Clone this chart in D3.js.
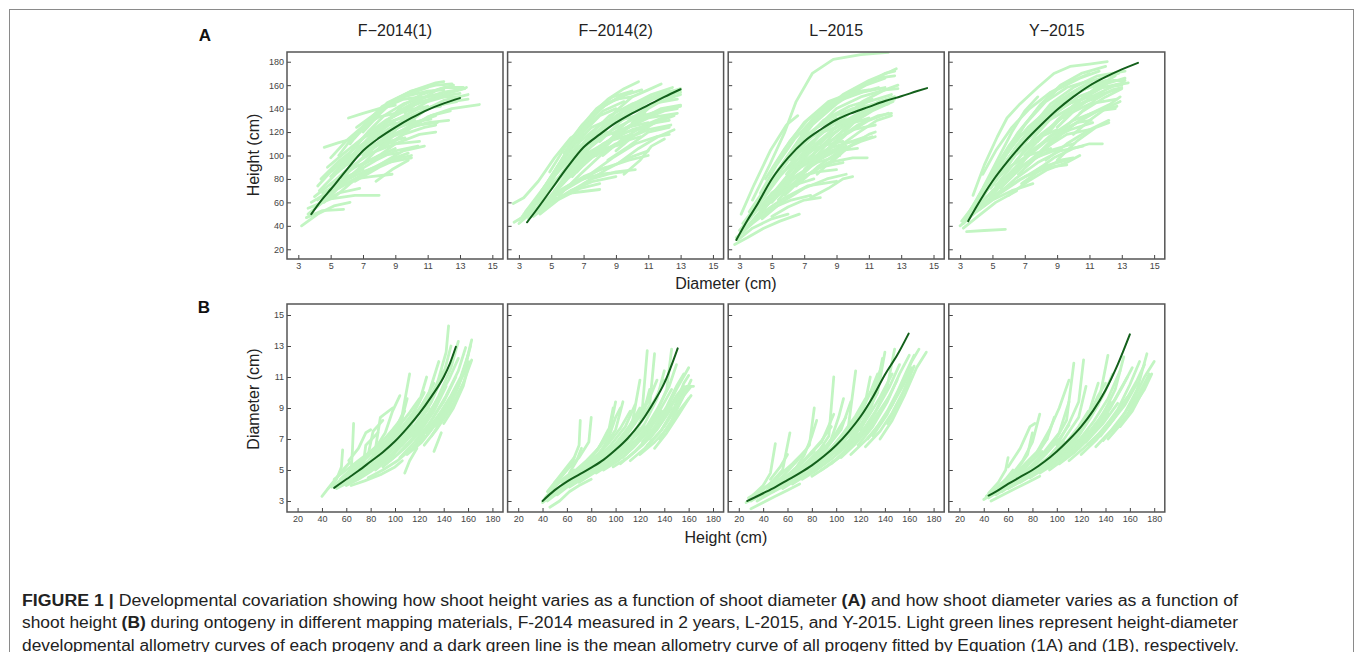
<!DOCTYPE html>
<html>
<head>
<meta charset="utf-8">
<script src="https://cdn.jsdelivr.net/npm/d3@7"></script>
<style>
  html, body { margin: 0; padding: 0; background: #fff; }
  svg { display: block; font-family: "Liberation Sans", Arial, Helvetica, sans-serif; }
</style>
</head>
<body>
<div id="figure"></div>
<script>
'use strict';

// ---- data ----
const panelTitles = ['F\u22122014(1)', 'F\u22122014(2)', 'L\u22122015', 'Y\u22122015'];

const diameterTicks = [3, 5, 7, 9, 11, 13, 15];
const heightTicks = [20, 40, 60, 80, 100, 120, 140, 160, 180];
const diameterTicksB = [3, 5, 7, 9, 11, 13, 15];
const heightTicksB = [20, 40, 60, 80, 100, 120, 140, 160, 180];

// panel A: [diameter, height]; dark green mean curves
const meanA1 = [[3.8, 50], [4.5, 63], [5, 71], [6, 88], [7, 104], [8, 115], [9, 124], [10, 132], [11, 139], [12, 144.5], [13, 149]];
const meanA2 = [[3.5, 43], [4, 52], [5, 71], [6, 90], [7, 107], [8, 118], [9, 128], [10, 136], [11, 143], [12, 150], [13, 156.5]];
const meanA3 = [[2.8, 28], [3.5, 45], [4, 56], [5, 80], [6, 98], [7, 112], [8, 122], [9, 130.5], [10, 136.5], [11, 141.5], [12, 146.5], [13, 150.5], [14, 155], [14.6, 157.5]];
const meanA4 = [[3.5, 44], [4, 56], [5, 78], [6, 96], [7, 112], [8, 126], [9, 139], [10, 150], [11, 159.5], [12, 167], [13, 173.5], [14, 179]];

// panel B: [height, diameter]
const meanB1 = [[50, 3.85], [60, 4.4], [70, 4.95], [80, 5.55], [90, 6.15], [100, 6.85], [110, 7.7], [120, 8.65], [130, 9.75], [140, 11.0], [145, 11.85], [150, 12.95]];
const meanB2 = [[40, 3.0], [50, 3.7], [60, 4.25], [70, 4.7], [80, 5.15], [90, 5.65], [100, 6.3], [110, 7.05], [120, 8.0], [130, 9.2], [140, 10.6], [151, 12.85]];
const meanB3 = [[27, 3.0], [40, 3.5], [50, 3.9], [60, 4.35], [70, 4.8], [80, 5.3], [90, 5.9], [100, 6.6], [110, 7.45], [120, 8.45], [130, 9.7], [140, 11.15], [150, 12.4], [159.5, 13.8]];
const meanB4 = [[44, 3.35], [50, 3.6], [60, 4.1], [70, 4.55], [80, 5.0], [90, 5.55], [100, 6.2], [110, 6.95], [120, 7.8], [130, 8.85], [140, 10.15], [150, 11.8], [160, 13.75]];

// light green progeny curves
const progenyA1 = [
    [[3.2, 40], [4.2, 50], [5.2, 57], [6.2, 60]],
    [[3.5, 47], [4.5, 53], [5.8, 54]],
    [[3.6, 55], [5, 63], [6.5, 66], [8, 66]],
    [[3.8, 60], [5, 70], [6.5, 80], [7.5, 82], [8.8, 84]],
    [[4.2, 74], [5, 86], [6, 98], [7.2, 108], [8.5, 112]],
    [[4, 65], [5.2, 78], [6.5, 90], [8, 100], [9.2, 102]],
    [[4.5, 68], [5.5, 76], [7, 86], [8.5, 94], [10, 98]],
    [[4.6, 107], [5.5, 111], [6.3, 114]],
    [[4.4, 80], [5.5, 95], [6.5, 106], [7.5, 114], [8.8, 118]],
    [[4.8, 90], [6, 104], [7, 115], [8.5, 126], [10, 130]],
    [[5, 75], [6, 88], [7.5, 102], [9, 110], [10.5, 112]],
    [[5.2, 85], [6.3, 100], [7.5, 117], [8.5, 128], [9.8, 134]],
    [[5.5, 72], [6.5, 80], [8, 92], [9.5, 104], [10.8, 108]],
    [[5, 98], [6, 113], [7, 125], [8, 133], [9, 136]],
    [[6.1, 132], [7, 136], [8, 140], [9, 143]],
    [[5.5, 100], [6.5, 118], [7.5, 132], [8.5, 142], [9.5, 148], [10.6, 150]],
    [[5.8, 90], [7, 108], [8.5, 120], [10, 128], [11.2, 131]],
    [[6, 95], [7.5, 115], [9, 130], [10.5, 140], [11.8, 142]],
    [[6.2, 110], [7.2, 128], [8.2, 142], [9.5, 150], [11, 155], [12, 156]],
    [[6.5, 115], [7.5, 130], [8.5, 145], [10, 155], [11.5, 162], [12, 163]],
    [[7, 100], [8, 112], [9.5, 122], [11, 128], [12.3, 130]],
    [[7, 120], [8, 135], [9, 148], [10, 155], [11.5, 160], [12.5, 161]],
    [[7.5, 118], [8.5, 130], [10, 142], [11.5, 150], [13, 156], [13.4, 158]],
    [[7.5, 95], [9, 110], [10.5, 118], [11.5, 120]],
    [[8, 122], [9, 136], [10.5, 148], [12, 154], [13.3, 157]],
    [[8.5, 115], [9.5, 128], [11, 140], [12.5, 146], [13.5, 148]],
    [[9, 125], [10, 138], [11, 146], [12.5, 152], [13, 153]],
    [[9.5, 120], [11, 133], [12.5, 140], [14.2, 143.5]],
    [[8, 105], [9.5, 118], [10.8, 124], [11.5, 126]],
    [[6.5, 78], [8, 90], [9.3, 98], [10, 100]],
    [[4.2, 62], [5, 72], [6, 82], [7, 88]],
    [[10, 130], [11, 140], [12, 147], [13.5, 152]],
    [[7.8, 78], [8.8, 88], [9.8, 96]],
    [[6, 92], [7.2, 105], [8.6, 112], [9.6, 115]],
    [[3.6, 50], [4.5, 60], [5.5, 68], [6.8, 72]],
    [[4, 55], [5, 68], [6, 80], [7, 92], [8, 100], [9, 106]],
    [[4.3, 70], [5.3, 84], [6.3, 96], [7.3, 106], [8.3, 114], [9.6, 120]],
    [[4.6, 60], [5.6, 74], [6.6, 86], [7.8, 96], [9, 104], [10.4, 108]],
    [[5, 82], [6, 96], [7, 108], [8, 118], [9, 126], [10.2, 130]],
    [[5.4, 90], [6.4, 106], [7.4, 120], [8.4, 130], [9.6, 138], [11, 142]],
    [[5.7, 80], [6.8, 96], [8, 110], [9.2, 120], [10.4, 126], [11.6, 128]],
    [[6.3, 104], [7.3, 120], [8.3, 134], [9.5, 144], [10.8, 150], [12.3, 152]],
    [[6.8, 90], [7.8, 104], [9, 118], [10.2, 128], [11.5, 134]],
    [[7.2, 112], [8.2, 126], [9.2, 138], [10.5, 146], [12, 150], [13, 150]],
    [[7.8, 108], [8.8, 122], [10, 134], [11.3, 142], [12.8, 146]],
    [[8.4, 128], [9.4, 142], [10.6, 152], [12, 158], [13.2, 158]],
    [[8.8, 110], [10, 124], [11.2, 134], [12.4, 138]],
    [[9.6, 136], [10.6, 148], [11.6, 156], [12.6, 160]],
    [[5.2, 64], [6.2, 76], [7.4, 88], [8.6, 96], [9.8, 102]],
    [[6.6, 124], [7.6, 134], [8.6, 144], [9.8, 152], [11, 158]]
];

const progenyA2 = [
    [[2.7, 43], [3.8, 52], [5, 62], [6.2, 68], [8, 71]],
    [[3, 45], [4, 55], [5, 66], [6.5, 78], [8, 84], [9.5, 86]],
    [[2.65, 59], [3.3, 64], [4.2, 78], [5.2, 98], [6.2, 115], [7, 122]],
    [[3.2, 48], [4.2, 62], [5.2, 78], [6.5, 95], [8, 105], [9.5, 110]],
    [[3.4, 52], [4.5, 72], [5.5, 92], [6.5, 110], [7.5, 124], [8.5, 130]],
    [[3.5, 50], [4.5, 66], [5.8, 86], [7, 100], [8.5, 112], [10, 118]],
    [[3.8, 56], [4.8, 78], [5.8, 100], [7, 120], [8, 134], [9, 140]],
    [[4, 60], [5, 82], [6, 104], [7, 124], [8, 140], [9, 148], [10, 150]],
    [[4.2, 58], [5.5, 80], [6.8, 100], [8.2, 116], [9.7, 124], [11, 128]],
    [[4.5, 66], [5.5, 90], [6.5, 114], [7.5, 132], [8.5, 145], [9.5, 150]],
    [[4.8, 62], [6, 80], [7.5, 98], [9, 110], [10.5, 116]],
    [[5, 72], [6.2, 96], [7.4, 118], [8.6, 134], [10, 144], [11.5, 150]],
    [[5, 64], [6.5, 76], [8, 88], [9.8, 96], [11, 100]],
    [[5.5, 92], [6.5, 115], [7.5, 135], [8.5, 148], [9.5, 157], [10.4, 163]],
    [[5.6, 75], [7, 95], [8.5, 112], [10, 122], [11.5, 128], [12.3, 130]],
    [[6, 88], [7.2, 108], [8.5, 126], [10, 138], [11.5, 145], [12.8, 148]],
    [[6.3, 82], [7.5, 100], [9, 118], [10.5, 130], [12, 138], [12.8, 140]],
    [[6.5, 96], [7.8, 118], [9, 134], [10.5, 146], [12, 154], [13, 156]],
    [[7, 92], [8.2, 108], [9.5, 122], [11, 132], [12.8, 136]],
    [[7.2, 104], [8.5, 124], [10, 140], [11.5, 150], [13, 154]],
    [[7.5, 85], [8.8, 98], [10.2, 110], [11.5, 116], [12.3, 118]],
    [[8, 112], [9.2, 128], [10.5, 142], [11.8, 152], [13, 157]],
    [[8, 120], [9, 138], [10, 150], [11, 156], [11.8, 161]],
    [[8.5, 96], [9.8, 108], [11, 120], [12.3, 124]],
    [[9, 104], [10.2, 118], [11.4, 128], [12.6, 134]],
    [[9.5, 84], [10.5, 96], [11.2, 108], [12, 114]],
    [[6, 68], [7.5, 80], [9, 86], [10.2, 88]],
    [[3.6, 46], [4.6, 58], [5.8, 72], [7, 82], [8.4, 90]],
    [[4.4, 70], [5.4, 88], [6.6, 106], [7.8, 120], [9.2, 130], [10.8, 136]],
    [[5.8, 102], [6.8, 124], [7.8, 140], [8.8, 150], [10, 155]],
    [[7.8, 100], [9, 116], [10.4, 130], [11.8, 140], [13, 143]],
    [[10, 128], [11, 140], [12, 148], [13, 152]],
    [[3, 42], [3.5, 48], [4.2, 54], [4.8, 58]],
    [[4.3, 50], [5.4, 62], [6.8, 72], [8, 76]],
    [[3.3, 50], [4.3, 66], [5.3, 84], [6.3, 100], [7.3, 112], [8.5, 120]],
    [[3.7, 54], [4.7, 72], [5.7, 92], [6.8, 112], [8, 126], [9.3, 134]],
    [[4.1, 62], [5.1, 84], [6.1, 106], [7.1, 124], [8.2, 138], [9.5, 146]],
    [[4.6, 60], [5.7, 78], [6.9, 96], [8.2, 110], [9.6, 120], [11, 124]],
    [[5.2, 70], [6.3, 90], [7.5, 108], [8.8, 122], [10.2, 132], [11.7, 138]],
    [[5.5, 66], [6.8, 84], [8.2, 102], [9.6, 114], [11, 122], [12.4, 126]],
    [[6.1, 92], [7.2, 112], [8.4, 128], [9.8, 140], [11.2, 148], [12.6, 152]],
    [[6.6, 86], [7.8, 104], [9.2, 120], [10.6, 132], [12, 140], [13, 142]],
    [[7.4, 110], [8.6, 128], [9.8, 142], [11.2, 152], [12.5, 158]],
    [[8.2, 100], [9.4, 114], [10.8, 126], [12.2, 134]],
    [[8.8, 118], [10, 132], [11.3, 144], [12.6, 150]],
    [[9.2, 94], [10.4, 106], [11.6, 116], [12.6, 122]],
    [[4.9, 86], [5.9, 108], [6.9, 126], [8, 140], [9.2, 150], [10.6, 156]],
    [[3.9, 48], [5, 60], [6.2, 70], [7.6, 78], [9, 82]],
    [[7, 76], [8.4, 88], [9.8, 98], [11, 104]]
];

const progenyA3 = [
    [[2.7, 24], [3.5, 30], [4.5, 38], [5.5, 44], [6.7, 50]],
    [[2.8, 30], [3.8, 42], [5, 55], [6.2, 62], [7.4, 66]],
    [[3, 36], [4, 52], [5, 68], [6.2, 80], [7.8, 86], [9, 88]],
    [[3.1, 50], [3.9, 75], [4.9, 104], [5.9, 126], [6.6, 134]],
    [[3.2, 42], [4.2, 60], [5.3, 80], [6.5, 96], [8, 108], [9.4, 112]],
    [[3.3, 38], [4.5, 52], [5.8, 64], [7.2, 74], [9, 78]],
    [[3.5, 46], [4.5, 66], [5.5, 88], [6.5, 108], [7.8, 124], [9, 132]],
    [[3.8, 62], [4.8, 90], [5.8, 120], [6.5, 146], [7.5, 170], [8.8, 182], [10.5, 186], [12.2, 188]],
    [[3.6, 52], [4.7, 74], [6, 96], [7.5, 116], [9, 128], [10.6, 134]],
    [[4, 58], [5, 80], [6.2, 104], [7.5, 126], [9, 144], [10.5, 158], [12, 170], [12.6, 172]],
    [[4.2, 54], [5.4, 72], [6.8, 90], [8.2, 102], [9.6, 108]],
    [[4.5, 64], [5.6, 88], [6.8, 110], [8.2, 130], [9.8, 142], [11.2, 148]],
    [[4.8, 72], [6, 100], [7.2, 124], [8.6, 144], [10, 156], [11.5, 166], [12.6, 168]],
    [[5, 60], [6.2, 78], [7.6, 94], [9, 104], [10.3, 106]],
    [[5.2, 70], [6.5, 92], [8, 112], [9.6, 126], [11, 132]],
    [[5.5, 86], [6.6, 110], [7.8, 132], [9.2, 148], [10.8, 160], [12, 166]],
    [[5.8, 66], [7, 82], [8.5, 94], [10, 98], [10.9, 98]],
    [[6, 80], [7.3, 102], [8.8, 122], [10.4, 136], [11.8, 142]],
    [[6.2, 96], [7.5, 120], [9, 140], [10.5, 150], [12, 156], [12.8, 157]],
    [[6.5, 74], [7.8, 90], [9.2, 104], [10.5, 112], [11.4, 116]],
    [[7, 88], [8.3, 108], [9.8, 126], [11.2, 138], [12.5, 146]],
    [[7.4, 64], [8.5, 72], [9.4, 80], [10, 82]],
    [[7.5, 100], [8.8, 118], [10.2, 134], [11.6, 146], [12.6, 150]],
    [[8, 110], [9.3, 130], [10.6, 146], [12, 156], [12.8, 160]],
    [[8.5, 92], [9.8, 108], [11, 118], [11.4, 120]],
    [[9, 116], [10.2, 132], [11.5, 144], [12.6, 150]],
    [[5, 48], [6, 56], [7, 62], [8, 64]],
    [[3.4, 44], [4.4, 62], [5.6, 84], [6.8, 104], [8.2, 120], [9.6, 128], [10.8, 130]],
    [[4, 48], [5.2, 64], [6.5, 78], [8, 90], [9.4, 94]],
    [[6.8, 118], [8, 136], [9.4, 152], [11, 164], [12.4, 172], [12.7, 174]],
    [[7.8, 84], [9, 100], [10.3, 112], [11.2, 116]],
    [[4.6, 80], [5.8, 106], [7, 128], [8.5, 146], [10, 154], [11, 156]],
    [[9.5, 120], [10.5, 134], [11.6, 142], [12.2, 144]],
    [[2.9, 28], [3.8, 38], [5, 46], [6, 50]],
    [[3.2, 34], [4.2, 50], [5.2, 66], [6.4, 82], [7.8, 94], [9.2, 100]],
    [[3.6, 40], [4.6, 58], [5.8, 78], [7, 94], [8.5, 106], [10, 112]],
    [[3.9, 54], [4.9, 78], [6, 100], [7.2, 118], [8.6, 132], [10, 140], [11.5, 144]],
    [[4.3, 68], [5.3, 92], [6.4, 114], [7.6, 132], [9, 146], [10.6, 154], [12, 158]],
    [[4.6, 56], [5.8, 76], [7.1, 96], [8.5, 112], [10, 122], [11.4, 126]],
    [[5.1, 90], [6.1, 112], [7.2, 130], [8.5, 144], [10, 152], [11.6, 158]],
    [[5.4, 62], [6.6, 80], [8, 98], [9.5, 110], [10.8, 116]],
    [[5.9, 84], [7.1, 106], [8.4, 124], [9.8, 136], [11.3, 144], [12.6, 148]],
    [[6.4, 90], [7.7, 110], [9.1, 126], [10.6, 138], [12.2, 146]],
    [[6.9, 100], [8.1, 120], [9.5, 136], [11, 146], [12.4, 152]],
    [[7.6, 94], [8.9, 112], [10.3, 126], [11.6, 134], [12.4, 136]],
    [[8.3, 102], [9.6, 118], [11, 130], [12.2, 136]],
    [[4.4, 46], [5.6, 60], [7, 72], [8.4, 80], [9.6, 84]],
    [[3, 32], [3.9, 46], [5, 62], [6.2, 74], [7.6, 80]],
    [[9.2, 108], [10.4, 120], [11.5, 130], [12.4, 134]]
];

const progenyA4 = [
    [[3.4, 35], [4.5, 36], [5.8, 37]],
    [[3, 40], [4, 52], [5, 62], [6.2, 70], [7.5, 76]],
    [[3.1, 44], [4, 60], [5, 76], [6, 90], [7.2, 100], [8.6, 106]],
    [[3.2, 42], [4.2, 56], [5.5, 70], [7, 82], [8.5, 90], [9.6, 92]],
    [[3.3, 46], [4.2, 66], [5.2, 88], [6.2, 108], [7.2, 124], [8.2, 136]],
    [[3.5, 50], [4.4, 72], [5.3, 96], [6.2, 120], [7, 138], [7.8, 150]],
    [[3.8, 66], [4.5, 92], [5.3, 116], [5.9, 132], [6.7, 144], [7.8, 158], [8.8, 170], [9.8, 176], [11, 178], [12.1, 180]],
    [[3.6, 48], [4.6, 64], [5.8, 80], [7.2, 94], [8.5, 104], [10, 110]],
    [[4, 58], [5, 78], [6, 98], [7.2, 118], [8.5, 134], [10, 146], [11.5, 152]],
    [[4.2, 54], [5.5, 68], [6.8, 80], [8, 90], [9.6, 96]],
    [[4.3, 62], [5.4, 86], [6.6, 110], [7.8, 130], [9, 146], [10.5, 158], [12, 164]],
    [[4.6, 70], [5.8, 94], [7, 116], [8.4, 136], [9.8, 150], [11.2, 160], [12.2, 164]],
    [[4.8, 66], [6, 84], [7.4, 104], [8.8, 118], [10.2, 128], [11.1, 130]],
    [[5, 80], [6, 104], [7, 126], [8, 144], [9.2, 160], [10.5, 170], [12, 176]],
    [[5.2, 74], [6.5, 96], [8, 118], [9.5, 134], [11, 144], [12.7, 148]],
    [[5.5, 72], [6.8, 90], [8.2, 106], [9.6, 118], [11, 122]],
    [[5.8, 88], [7, 112], [8.3, 134], [9.7, 152], [11.2, 164], [12.8, 170]],
    [[6, 66], [7.2, 78], [8.4, 88], [9.6, 94], [10.4, 100]],
    [[6.2, 100], [7.4, 124], [8.6, 144], [10, 158], [11.5, 168], [13.2, 172]],
    [[6.6, 84], [8, 102], [9.4, 120], [10.8, 134], [12.3, 144], [12.9, 150]],
    [[7, 110], [8.2, 132], [9.5, 150], [11, 160], [12.5, 164], [13.2, 164]],
    [[7.2, 92], [8.5, 110], [10, 126], [11.5, 138], [12.7, 142]],
    [[7.6, 86], [8.8, 98], [10, 106], [11, 110], [11.8, 110]],
    [[8, 104], [9.3, 122], [10.6, 138], [12, 150], [13, 157]],
    [[8.5, 120], [9.6, 138], [10.8, 152], [12.2, 162], [13.2, 166]],
    [[9, 96], [10.2, 112], [11.4, 124], [12.2, 128]],
    [[9.4, 132], [10.5, 148], [11.6, 160], [12.6, 168]],
    [[3.9, 52], [5, 70], [6.2, 86], [7.6, 98], [9.2, 106]],
    [[4.4, 84], [5.2, 104], [6.2, 124], [7.3, 140], [8.6, 154], [10, 164], [11, 170]],
    [[6.8, 76], [8, 88], [9.2, 96], [10, 98]],
    [[10, 118], [11, 130], [12, 140], [12.9, 146]],
    [[5.6, 98], [6.6, 120], [7.8, 140], [9, 156], [10.4, 166], [11.6, 172]],
    [[3.4, 48], [4.3, 64], [5.3, 82], [6.4, 100], [7.6, 114], [9, 122]],
    [[3.7, 54], [4.6, 74], [5.6, 96], [6.7, 116], [7.9, 132], [9.2, 142], [10.6, 148]],
    [[4.1, 64], [5, 86], [6, 108], [7.1, 128], [8.3, 146], [9.6, 158], [11, 164]],
    [[4.5, 58], [5.6, 76], [6.9, 96], [8.3, 112], [9.8, 122], [11.2, 128]],
    [[4.9, 72], [6, 94], [7.2, 114], [8.5, 130], [10, 142], [11.6, 150]],
    [[5.4, 86], [6.5, 108], [7.7, 128], [9, 144], [10.5, 156], [12.1, 162]],
    [[5.9, 78], [7.1, 98], [8.5, 116], [10, 130], [11.5, 138], [12.6, 140]],
    [[6.4, 94], [7.6, 116], [8.9, 136], [10.3, 150], [11.8, 158], [13, 160]],
    [[7, 100], [8.3, 120], [9.7, 138], [11.2, 150], [12.6, 156]],
    [[7.8, 112], [9, 130], [10.3, 146], [11.8, 158], [13.1, 162]],
    [[8.3, 96], [9.6, 110], [11, 122], [12.2, 130]],
    [[9, 124], [10.2, 140], [11.4, 152], [12.6, 160], [13.4, 162]],
    [[5.1, 64], [6.4, 80], [7.8, 94], [9.2, 104], [10.6, 108]],
    [[3.2, 38], [4.1, 48], [5.2, 60], [6.5, 70]],
    [[10.4, 136], [11.4, 148], [12.4, 156], [13, 158]]
];

const progenyB1 = [
    [[40, 3.3], [48, 4.1], [56, 4.9], [63, 5.5]],
    [[45, 3.8], [52, 4.4], [56, 5.2], [57, 6.3]],
    [[48, 3.9], [56, 4.4], [64, 5.0], [65, 6.2], [66, 8.0]],
    [[50, 4.0], [62, 4.7], [74, 5.4], [76, 6.6], [86, 7.4]],
    [[52, 3.8], [64, 4.3], [76, 4.8], [88, 5.4], [95, 6.0]],
    [[55, 4.4], [66, 5.2], [78, 6.0], [82, 7.5], [90, 8.2]],
    [[58, 4.2], [70, 4.6], [82, 5.2], [94, 6.0], [104, 6.8]],
    [[60, 4.6], [72, 5.4], [84, 6.4], [88, 8.4], [98, 9.0]],
    [[64, 4.0], [75, 4.3], [88, 4.7], [100, 5.2], [106, 5.6]],
    [[66, 4.8], [78, 5.6], [90, 6.6], [100, 7.6], [108, 8.8]],
    [[70, 5.0], [82, 5.8], [94, 6.8], [104, 7.8], [110, 9.6]],
    [[72, 4.6], [84, 5.2], [96, 5.9], [108, 6.8], [118, 7.6]],
    [[75, 5.2], [86, 6.2], [98, 7.2], [106, 8.6], [112, 11.2]],
    [[78, 4.5], [90, 5.0], [102, 5.6], [114, 6.4], [124, 7.2]],
    [[80, 5.4], [92, 6.4], [104, 7.6], [116, 8.8], [124, 10.0]],
    [[84, 5.0], [96, 5.8], [108, 6.8], [120, 7.8], [130, 8.8]],
    [[86, 5.8], [98, 6.8], [110, 8.0], [120, 9.4], [126, 11.0]],
    [[90, 5.2], [102, 6.0], [114, 7.0], [126, 8.2], [136, 9.6]],
    [[92, 6.0], [104, 7.0], [116, 8.4], [128, 10.0], [136, 12.0]],
    [[96, 5.6], [108, 6.4], [120, 7.4], [132, 8.8], [142, 10.4]],
    [[100, 6.2], [112, 7.4], [124, 8.8], [134, 10.4], [142, 12.6], [144, 14.3]],
    [[104, 5.8], [116, 6.8], [128, 8.0], [140, 9.4], [150, 11.0]],
    [[106, 6.6], [118, 7.8], [130, 9.4], [140, 11.2], [146, 13.0]],
    [[110, 6.0], [122, 6.8], [134, 8.0], [146, 9.6], [156, 11.2], [162, 12.0]],
    [[112, 6.8], [124, 8.0], [136, 9.8], [146, 11.6], [152, 13.3]],
    [[116, 6.4], [128, 7.4], [140, 8.8], [152, 10.4], [160, 12.0]],
    [[120, 7.0], [130, 8.2], [142, 9.8], [152, 11.4], [158, 12.9]],
    [[124, 6.6], [134, 7.6], [146, 9.0], [156, 10.6], [163, 12.1]],
    [[130, 7.2], [140, 8.4], [150, 10.0], [158, 11.8], [163, 13.4]],
    [[132, 6.2], [136, 7.0], [138, 7.4]],
    [[140, 8.0], [148, 9.0], [156, 10.4], [160, 11.6]],
    [[108, 4.8], [112, 5.6], [118, 6.4]],
    [[62, 5.6], [70, 6.4], [76, 7.4], [80, 7.6]],
    [[84, 6.4], [92, 7.4], [98, 8.8], [104, 9.8]],
    [[50, 4.4], [60, 5.0], [70, 5.6], [80, 6.2], [90, 6.9]],
    [[56, 4.0], [66, 4.5], [76, 5.1], [86, 5.7], [96, 6.4]],
    [[62, 4.4], [72, 5.0], [82, 5.6], [92, 6.3], [102, 7.1]],
    [[68, 5.2], [78, 5.9], [88, 6.7], [98, 7.6], [106, 8.4]],
    [[74, 4.9], [84, 5.5], [94, 6.2], [104, 7.0], [114, 7.9]],
    [[82, 6.0], [92, 6.8], [102, 7.7], [112, 8.7], [120, 9.6]],
    [[88, 5.6], [98, 6.3], [108, 7.1], [118, 8.0], [128, 9.0]],
    [[94, 6.4], [104, 7.3], [114, 8.3], [124, 9.4], [132, 10.6]],
    [[98, 6.0], [108, 6.8], [118, 7.7], [128, 8.7], [138, 9.9]],
    [[102, 6.8], [112, 7.8], [122, 8.9], [132, 10.2], [140, 11.4]],
    [[114, 7.2], [124, 8.2], [134, 9.4], [144, 10.8], [152, 12.2]],
    [[118, 6.8], [128, 7.7], [138, 8.8], [148, 10.0], [158, 11.4]],
    [[126, 7.4], [136, 8.5], [146, 9.8], [154, 11.0], [160, 12.4]],
    [[134, 7.8], [144, 9.0], [152, 10.4], [158, 11.8], [162, 13.0]],
    [[60, 4.0], [70, 4.4], [80, 4.9], [90, 5.5], [100, 6.1]]
];

const progenyB2 = [
    [[40, 2.9], [48, 3.4], [56, 3.9], [64, 4.3], [72, 4.6]],
    [[42, 3.2], [50, 3.9], [58, 4.5], [66, 5.0]],
    [[44, 3.6], [52, 4.4], [60, 5.2], [66, 5.8]],
    [[46, 2.6], [54, 3.0], [62, 3.6], [70, 4.0], [80, 4.4]],
    [[48, 3.8], [56, 4.6], [64, 5.4], [70, 6.6], [71, 8.2]],
    [[50, 4.2], [60, 5.0], [70, 5.8], [78, 6.8], [80, 8.4]],
    [[52, 3.4], [62, 4.0], [72, 4.6], [82, 5.2], [92, 5.8]],
    [[55, 3.8], [66, 4.6], [76, 5.4], [86, 6.4], [94, 7.6]],
    [[58, 4.0], [68, 4.6], [80, 5.2], [92, 6.0], [102, 6.8]],
    [[60, 4.4], [72, 5.2], [84, 6.2], [94, 7.4], [98, 9.0]],
    [[64, 4.2], [76, 4.8], [88, 5.6], [100, 6.4], [110, 7.2]],
    [[66, 4.6], [78, 5.4], [90, 6.4], [100, 7.6], [106, 9.4]],
    [[70, 4.2], [82, 4.8], [94, 5.4], [106, 6.2], [118, 7.0]],
    [[72, 4.8], [84, 5.6], [96, 6.6], [108, 7.8], [116, 9.2]],
    [[76, 4.6], [88, 5.2], [100, 6.0], [112, 6.8], [124, 7.8]],
    [[80, 5.0], [92, 5.8], [104, 6.8], [114, 8.2], [120, 10.8]],
    [[84, 4.8], [96, 5.4], [108, 6.2], [120, 7.2], [132, 8.4]],
    [[88, 5.4], [100, 6.4], [112, 7.6], [122, 9.0], [126, 12.7]],
    [[90, 5.0], [102, 5.6], [114, 6.4], [126, 7.4], [138, 8.8]],
    [[94, 5.6], [106, 6.6], [118, 7.8], [128, 9.2], [132, 12.5]],
    [[98, 5.2], [110, 5.8], [122, 6.6], [134, 7.6], [146, 9.0]],
    [[100, 5.8], [112, 6.8], [124, 8.0], [134, 9.6], [140, 11.4]],
    [[104, 5.4], [116, 6.2], [128, 7.2], [140, 8.4], [150, 9.8], [156, 10.4]],
    [[108, 6.0], [120, 7.0], [132, 8.4], [142, 10.2], [146, 12.8]],
    [[112, 5.6], [124, 6.4], [136, 7.4], [148, 8.8], [158, 10.4], [164, 10.4]],
    [[116, 6.2], [128, 7.2], [140, 8.6], [150, 10.2], [160, 11.6]],
    [[120, 6.0], [132, 6.8], [144, 7.8], [152, 8.8], [162, 9.8]],
    [[126, 6.6], [138, 7.6], [148, 9.0], [156, 10.6], [160, 11.1]],
    [[132, 6.4], [142, 7.4], [152, 8.6], [160, 9.6]],
    [[62, 4.8], [68, 5.6], [72, 6.4]],
    [[86, 6.0], [94, 7.0], [100, 8.4], [104, 9.0]],
    [[110, 6.4], [118, 7.6], [124, 9.0], [128, 10.2]],
    [[136, 7.0], [146, 8.2], [156, 9.8], [162, 10.8]],
    [[78, 5.6], [88, 6.6], [96, 7.8], [100, 9.4]],
    [[44, 3.0], [54, 3.6], [64, 4.2], [74, 4.8], [84, 5.4]],
    [[50, 3.6], [60, 4.2], [70, 4.8], [80, 5.5], [90, 6.2]],
    [[56, 4.2], [66, 4.9], [76, 5.6], [86, 6.4], [94, 7.2]],
    [[62, 3.9], [72, 4.4], [82, 5.0], [92, 5.6], [102, 6.3]],
    [[68, 4.4], [78, 5.0], [88, 5.7], [98, 6.5], [108, 7.4]],
    [[74, 5.0], [84, 5.8], [94, 6.7], [104, 7.7], [112, 8.8]],
    [[82, 5.2], [92, 6.0], [102, 6.9], [112, 7.9], [120, 9.0]],
    [[90, 5.6], [100, 6.4], [110, 7.4], [120, 8.5], [128, 9.8]],
    [[96, 6.0], [106, 6.9], [116, 8.0], [126, 9.3], [134, 10.8]],
    [[102, 6.2], [112, 7.1], [122, 8.2], [132, 9.5], [140, 10.8]],
    [[106, 5.8], [116, 6.6], [126, 7.6], [136, 8.8], [146, 10.2]],
    [[114, 6.6], [124, 7.6], [134, 8.9], [144, 10.4], [150, 11.8]],
    [[122, 6.8], [132, 7.8], [142, 9.1], [150, 10.4], [156, 11.2]],
    [[128, 7.0], [138, 8.1], [148, 9.4], [156, 10.2]],
    [[140, 7.8], [148, 8.8], [156, 9.8], [162, 10.4]]
];

const progenyB3 = [
    [[26, 2.9], [34, 3.2], [42, 3.5], [50, 3.8]],
    [[28, 3.2], [36, 3.6], [44, 4.0], [52, 4.5]],
    [[30, 2.5], [40, 2.9], [50, 3.3], [60, 3.7], [70, 4.1]],
    [[32, 3.4], [40, 4.0], [46, 4.8], [50, 6.7]],
    [[35, 3.0], [46, 3.5], [58, 4.0], [70, 4.6], [82, 5.0]],
    [[38, 3.6], [48, 4.3], [56, 5.0], [62, 7.4]],
    [[40, 3.3], [52, 3.9], [64, 4.6], [76, 5.4], [88, 6.2]],
    [[44, 3.8], [56, 4.6], [68, 5.6], [78, 6.6], [82, 9.0]],
    [[48, 3.6], [60, 4.2], [72, 4.9], [84, 5.6], [96, 6.4]],
    [[52, 4.0], [64, 4.8], [76, 5.8], [88, 6.8], [98, 8.6]],
    [[56, 3.8], [68, 4.4], [80, 5.0], [92, 5.8], [104, 6.6]],
    [[60, 4.2], [72, 5.0], [84, 6.0], [94, 7.2], [98, 11.0]],
    [[64, 4.1], [76, 4.7], [88, 5.4], [100, 6.2], [112, 7.0]],
    [[68, 4.6], [80, 5.4], [92, 6.4], [104, 7.6], [112, 9.4]],
    [[72, 4.4], [84, 5.0], [96, 5.7], [108, 6.5], [120, 7.4]],
    [[76, 4.8], [88, 5.6], [100, 6.6], [110, 7.8], [116, 11.4]],
    [[80, 4.6], [92, 5.2], [104, 5.9], [116, 6.8], [128, 7.8]],
    [[84, 5.2], [96, 6.1], [108, 7.2], [120, 8.6], [128, 10.0]],
    [[88, 5.0], [100, 5.7], [112, 6.6], [124, 7.6], [136, 8.8]],
    [[92, 5.6], [104, 6.6], [116, 7.8], [128, 9.4], [136, 11.4]],
    [[96, 5.4], [108, 6.2], [120, 7.2], [132, 8.4], [144, 9.8]],
    [[100, 6.0], [112, 7.0], [124, 8.4], [134, 10.0], [140, 12.6]],
    [[104, 5.8], [116, 6.7], [128, 7.8], [140, 9.2], [150, 10.8]],
    [[108, 6.2], [120, 7.3], [132, 8.7], [142, 10.4], [148, 12.8]],
    [[112, 6.0], [124, 6.9], [136, 8.0], [146, 9.2], [156, 10.8]],
    [[118, 6.6], [130, 7.8], [142, 9.4], [152, 11.2], [160, 12.4]],
    [[124, 6.5], [136, 7.5], [146, 8.7], [156, 10.2], [164, 11.7]],
    [[130, 7.2], [142, 8.6], [152, 10.2], [162, 12.0], [168, 12.8]],
    [[136, 7.0], [146, 8.2], [156, 9.8], [166, 11.6], [174, 12.6]],
    [[142, 8.0], [150, 9.0], [156, 10.2], [162, 11.0]],
    [[46, 4.4], [54, 5.2], [60, 6.0]],
    [[66, 5.0], [74, 6.0], [80, 7.2], [84, 8.2]],
    [[88, 6.0], [96, 7.0], [102, 8.4], [106, 9.6]],
    [[110, 6.8], [118, 8.0], [124, 9.4], [128, 11.0]],
    [[120, 7.6], [128, 8.8], [134, 10.6], [138, 12.2]],
    [[30, 3.0], [40, 3.5], [50, 4.0], [60, 4.6], [70, 5.2]],
    [[34, 3.4], [44, 4.0], [54, 4.7], [64, 5.4], [74, 6.2]],
    [[42, 3.6], [52, 4.2], [62, 4.8], [72, 5.5], [82, 6.2]],
    [[50, 3.9], [60, 4.5], [70, 5.1], [80, 5.8], [90, 6.6]],
    [[58, 4.5], [68, 5.2], [78, 6.0], [88, 6.9], [96, 7.8]],
    [[62, 4.3], [72, 4.8], [82, 5.4], [92, 6.1], [102, 6.9]],
    [[70, 4.9], [80, 5.6], [90, 6.4], [100, 7.4], [108, 8.4]],
    [[78, 5.1], [88, 5.8], [98, 6.6], [108, 7.5], [118, 8.5]],
    [[86, 5.6], [96, 6.4], [106, 7.4], [116, 8.5], [124, 9.6]],
    [[94, 5.8], [104, 6.6], [114, 7.6], [124, 8.7], [134, 10.0]],
    [[98, 6.4], [108, 7.4], [118, 8.6], [128, 10.0], [134, 11.2]],
    [[106, 6.4], [116, 7.3], [126, 8.4], [136, 9.7], [146, 11.2]],
    [[114, 6.8], [124, 7.8], [134, 9.0], [144, 10.4], [152, 11.8]],
    [[126, 7.0], [136, 8.0], [146, 9.2], [156, 10.6], [162, 11.6]],
    [[132, 7.6], [142, 8.8], [150, 10.0], [158, 11.4], [164, 12.4]]
];

const progenyB4 = [
    [[40, 3.1], [48, 3.5], [56, 3.9], [64, 4.3]],
    [[42, 3.3], [50, 3.8], [58, 4.4], [64, 5.0]],
    [[44, 3.5], [52, 4.2], [58, 5.0], [60, 5.8]],
    [[46, 3.0], [56, 3.4], [66, 3.8], [76, 4.2], [86, 4.6]],
    [[48, 3.6], [58, 4.3], [68, 5.1], [76, 6.0], [80, 7.4]],
    [[50, 3.4], [60, 3.9], [70, 4.4], [80, 5.0], [92, 5.6]],
    [[52, 3.8], [62, 4.6], [72, 5.6], [80, 6.8], [86, 8.6]],
    [[55, 3.6], [66, 4.2], [77, 4.8], [88, 5.5], [100, 6.2]],
    [[58, 4.0], [70, 4.8], [82, 5.8], [92, 7.0], [98, 8.4]],
    [[62, 3.9], [74, 4.4], [86, 5.0], [98, 5.7], [110, 6.4]],
    [[66, 4.4], [78, 5.2], [90, 6.2], [102, 7.4], [110, 9.4]],
    [[70, 4.2], [82, 4.8], [94, 5.4], [106, 6.1], [118, 6.9]],
    [[74, 4.8], [86, 5.7], [98, 6.8], [108, 8.2], [114, 11.9]],
    [[78, 4.5], [90, 5.1], [102, 5.8], [114, 6.6], [126, 7.5]],
    [[82, 5.0], [94, 5.9], [106, 7.0], [118, 8.4], [124, 10.4]],
    [[86, 4.8], [98, 5.4], [110, 6.2], [122, 7.0], [134, 8.0]],
    [[90, 5.3], [102, 6.2], [114, 7.3], [126, 8.6], [134, 10.6]],
    [[94, 5.0], [106, 5.7], [118, 6.5], [130, 7.4], [142, 8.6]],
    [[98, 5.6], [110, 6.6], [122, 7.8], [134, 9.2], [142, 12.4]],
    [[102, 5.4], [114, 6.1], [126, 7.0], [138, 8.0], [150, 9.3]],
    [[106, 5.9], [118, 6.9], [130, 8.1], [142, 9.6], [152, 11.4]],
    [[110, 5.6], [122, 6.4], [134, 7.3], [146, 8.4], [158, 9.7]],
    [[114, 6.2], [126, 7.3], [138, 8.6], [148, 10.2], [155, 12.3]],
    [[120, 6.0], [132, 6.9], [144, 8.0], [156, 9.2], [166, 10.6]],
    [[126, 6.6], [138, 7.6], [150, 8.9], [160, 10.5], [168, 12.0]],
    [[132, 6.5], [144, 7.5], [156, 8.7], [166, 10.2], [174, 12.5]],
    [[138, 6.9], [150, 8.0], [162, 9.4], [172, 11.0], [180, 12.0]],
    [[146, 7.4], [158, 8.6], [168, 10.0], [176, 11.2]],
    [[60, 5.2], [70, 6.4], [78, 7.8], [82, 8.0]],
    [[84, 6.2], [94, 7.6], [102, 9.0], [110, 10.8]],
    [[100, 6.6], [110, 8.0], [118, 9.4], [122, 12.1]],
    [[116, 7.0], [126, 8.4], [134, 9.8], [140, 10.6]],
    [[152, 7.8], [162, 8.8], [170, 10.0], [176, 11.0]],
    [[44, 3.2], [54, 3.7], [64, 4.3], [74, 4.9], [84, 5.5]],
    [[48, 3.5], [58, 4.1], [68, 4.8], [78, 5.5], [88, 6.2]],
    [[54, 3.9], [64, 4.6], [74, 5.4], [84, 6.2], [92, 7.0]],
    [[60, 3.8], [70, 4.3], [80, 4.8], [90, 5.4], [100, 6.0]],
    [[66, 4.1], [76, 4.7], [86, 5.3], [96, 6.0], [106, 6.8]],
    [[72, 4.6], [82, 5.3], [92, 6.1], [102, 7.0], [110, 7.9]],
    [[80, 4.8], [90, 5.4], [100, 6.1], [110, 6.9], [120, 7.8]],
    [[88, 5.2], [98, 5.9], [108, 6.8], [118, 7.8], [126, 8.8]],
    [[96, 5.6], [106, 6.4], [116, 7.3], [126, 8.4], [134, 9.6]],
    [[104, 5.6], [114, 6.3], [124, 7.2], [134, 8.2], [144, 9.4]],
    [[108, 6.2], [118, 7.2], [128, 8.4], [138, 9.8], [146, 11.2]],
    [[118, 6.4], [128, 7.3], [138, 8.4], [148, 9.6], [158, 11.0]],
    [[124, 6.8], [134, 7.8], [144, 9.0], [154, 10.4], [162, 11.6]],
    [[136, 7.2], [146, 8.2], [156, 9.4], [166, 10.8], [172, 11.8]],
    [[142, 7.0], [152, 7.9], [162, 9.0], [172, 10.2], [178, 11.2]]
];

const captionLines = [
    [['FIGURE 1 | ', true], ['Developmental covariation showing how shoot height varies as a function of shoot diameter ', false], ['(A)', true], [' and how shoot diameter varies as a function of', false]],
    [['shoot height ', false], ['(B)', true], [' during ontogeny in different mapping materials, F-2014 measured in 2 years, L-2015, and Y-2015. Light green lines represent height-diameter', false]],
    [['developmental allometry curves of each progeny and a dark green line is the mean allometry curve of all progeny fitted by Equation (1A) and (1B), respectively.', false]]
];

// ---- layout ----
const width = 1355;
const height = 652;
const panel = { left: 287, step: 220.6, width: 216 };
const rowA = { top: 52, height: 207 };
const rowB = { top: 304, height: 208 };
const lightGreen = '#c2f5c2';
const darkGreen = '#13601b';

const svg = d3.select('#figure')
    .append('svg')
    .attr('width', width)
    .attr('height', height);

// outer frame of the figure
svg.append('rect')
    .attr('x', 9.5)
    .attr('y', 9.5)
    .attr('width', 1344)
    .attr('height', 700)
    .attr('fill', 'none')
    .attr('stroke', '#8a8a8a')
    .attr('stroke-width', 1);

// scales (same for every panel in a row)
const xA = d3.scaleLinear().domain([2.3, 15.66]).range([0, panel.width]);
const yA = d3.scaleLinear().domain([11.7, 188.3]).range([rowA.height, 0]);
const xB = d3.scaleLinear().domain([11.3, 188.7]).range([0, panel.width]);
const yB = d3.scaleLinear().domain([2.29, 15.71]).range([rowB.height, 0]);

const rowAData = [
    { mean: meanA1, progeny: progenyA1 },
    { mean: meanA2, progeny: progenyA2 },
    { mean: meanA3, progeny: progenyA3 },
    { mean: meanA4, progeny: progenyA4 }
];
const rowBData = [
    { mean: meanB1, progeny: progenyB1 },
    { mean: meanB2, progeny: progenyB2 },
    { mean: meanB3, progeny: progenyB3 },
    { mean: meanB4, progeny: progenyB4 }
];

function drawPanel(d, i, row, xScale, yScale, xTicks, yTicks, rowName) {
    const g = svg.append('g')
        .attr('transform', `translate(${panel.left + i * panel.step},${row.top})`);

    const clipId = `clip-${rowName}-${i}`;
    g.append('clipPath')
        .attr('id', clipId)
        .append('rect')
        .attr('width', panel.width)
        .attr('height', row.height);

    const lineGen = d3.line()
        .x(function (p) { return xScale(p[0]); })
        .y(function (p) { return yScale(p[1]); });

    const plot = g.append('g').attr('clip-path', `url(#${clipId})`);

    // one light line per progeny
    plot.selectAll('path.progeny')
        .data(d.progeny)
        .join('path')
        .attr('class', 'progeny')
        .attr('fill', 'none')
        .attr('stroke', lightGreen)
        .attr('stroke-width', 2.8)
        .attr('stroke-linejoin', 'round')
        .attr('stroke-linecap', 'round')
        .attr('d', lineGen);

    // mean allometry curve
    plot.append('path')
        .attr('fill', 'none')
        .attr('stroke', darkGreen)
        .attr('stroke-width', 2)
        .attr('stroke-linecap', 'round')
        .attr('d', lineGen.curve(d3.curveMonotoneX)(d.mean));

    // axes, ticks point into the panel
    const xAxis = d3.axisBottom(xScale)
        .tickValues(xTicks)
        .tickSize(-4)
        .tickPadding(4)
        .tickFormat(d3.format('d'));
    const yAxis = d3.axisLeft(yScale)
        .tickValues(yTicks)
        .tickSize(-4)
        .tickPadding(3)
        .tickFormat(d3.format('d'));

    const gx = g.append('g')
        .attr('transform', `translate(0,${row.height})`)
        .call(xAxis);
    const gy = g.append('g').call(yAxis);

    [gx, gy].forEach(function (ax) {
        ax.select('.domain').remove();
        ax.selectAll('line').attr('stroke', '#444').attr('stroke-width', 1);
        ax.selectAll('text')
            .attr('fill', '#444')
            .attr('font-size', 9)
            .attr('font-family', '"Liberation Sans", Arial, sans-serif');
    });
    if (i > 0) gy.selectAll('text').remove();

    // panel box
    g.append('rect')
        .attr('width', panel.width)
        .attr('height', row.height)
        .attr('fill', 'none')
        .attr('stroke', '#555')
        .attr('stroke-width', 1.5);

    return g;
}

rowAData.forEach(function (d, i) {
    const g = drawPanel(d, i, rowA, xA, yA, diameterTicks, heightTicks, 'a');
    g.append('text')
        .attr('x', panel.width / 2)
        .attr('y', 36 - rowA.top)
        .attr('text-anchor', 'middle')
        .attr('font-size', 16)
        .attr('fill', '#222')
        .text(panelTitles[i]);
});

rowBData.forEach(function (d, i) {
    drawPanel(d, i, rowB, xB, yB, heightTicksB, diameterTicksB, 'b');
});

// axis titles
const centerX = panel.left + (3 * panel.step + panel.width) / 2;

svg.append('text')
    .attr('x', centerX)
    .attr('y', 289)
    .attr('text-anchor', 'middle')
    .attr('font-size', 16)
    .attr('fill', '#222')
    .text('Diameter (cm)');

svg.append('text')
    .attr('x', centerX)
    .attr('y', 543)
    .attr('text-anchor', 'middle')
    .attr('font-size', 16)
    .attr('fill', '#222')
    .text('Height (cm)');

svg.append('text')
    .attr('transform', 'translate(259,155) rotate(-90)')
    .attr('text-anchor', 'middle')
    .attr('font-size', 16)
    .attr('fill', '#222')
    .text('Height (cm)');

svg.append('text')
    .attr('transform', 'translate(259,399) rotate(-90)')
    .attr('text-anchor', 'middle')
    .attr('font-size', 16)
    .attr('fill', '#222')
    .text('Diameter (cm)');

// panel letters
svg.append('text')
    .attr('x', 205)
    .attr('y', 41)
    .attr('text-anchor', 'middle')
    .attr('font-size', 17)
    .attr('font-weight', 700)
    .attr('fill', '#111')
    .text('A');

svg.append('text')
    .attr('x', 204)
    .attr('y', 313)
    .attr('text-anchor', 'middle')
    .attr('font-size', 17)
    .attr('font-weight', 700)
    .attr('fill', '#111')
    .text('B');

// caption, three lines filling the same width as in the figure
const captionY = [605.5, 628, 650.5];
const captionWidth = [1216, 1216, 1217];
captionLines.forEach(function (segments, li) {
    const t = svg.append('text')
        .attr('x', 22)
        .attr('y', captionY[li])
        .attr('font-size', 16)
        .attr('fill', '#222')
        .attr('textLength', captionWidth[li])
        .attr('lengthAdjust', 'spacingAndGlyphs');
    segments.forEach(function (s) {
        t.append('tspan')
            .attr('font-weight', s[1] ? 700 : 400)
            .text(s[0]);
    });
});
</script>
</body>
</html>
